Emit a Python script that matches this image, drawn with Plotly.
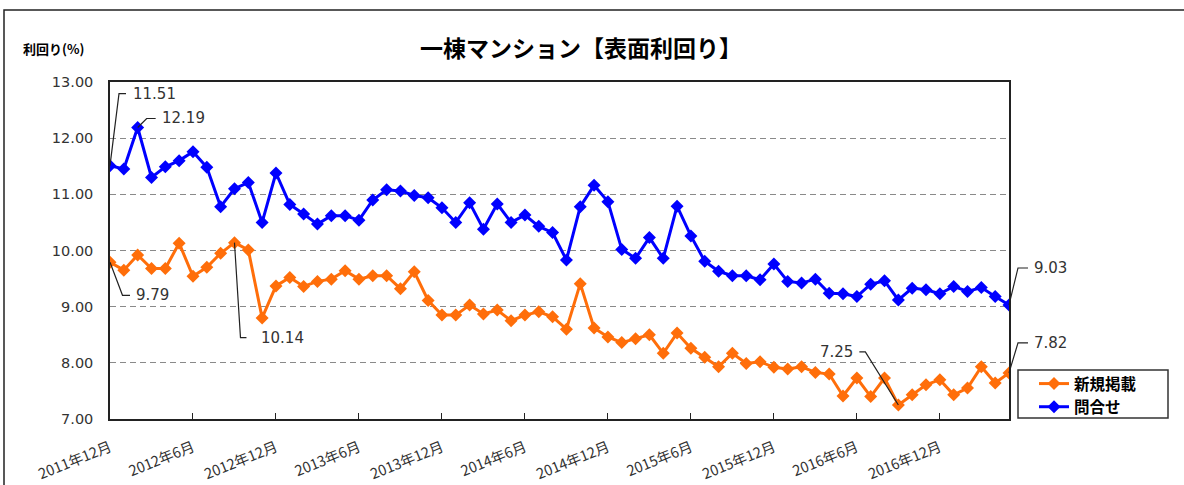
import plotly.graph_objects as go

# ---------------- data ----------------
months = []
for y in range(2011, 2018):
    for m in range(1, 13):
        if (y == 2011 and m < 12) or (y == 2017 and m > 5):
            continue
        months.append(f"{y}年{m}月")

shinki = [9.79, 9.65, 9.92, 9.68, 9.68, 10.13, 9.54, 9.70, 9.95, 10.14,
          10.01, 8.80, 9.37, 9.52, 9.36, 9.45, 9.49, 9.64, 9.49, 9.55,
          9.55, 9.32, 9.62, 9.11, 8.85, 8.85, 9.03, 8.87, 8.94, 8.75,
          8.85, 8.91, 8.82, 8.60, 9.41, 8.62, 8.46, 8.36, 8.43, 8.50,
          8.17, 8.53, 8.26, 8.10, 7.93, 8.17, 7.99, 8.02, 7.92, 7.89,
          7.93, 7.83, 7.80, 7.41, 7.73, 7.40, 7.73, 7.25, 7.43, 7.61,
          7.70, 7.43, 7.55, 7.93, 7.64, 7.82]

toiawase = [11.51, 11.45, 12.19, 11.30, 11.49, 11.60, 11.76, 11.48, 10.78, 11.10,
            11.21, 10.50, 11.38, 10.82, 10.65, 10.47, 10.62, 10.62, 10.54, 10.90,
            11.08, 11.06, 10.98, 10.94, 10.76, 10.50, 10.85, 10.38, 10.83, 10.50,
            10.63, 10.43, 10.32, 9.83, 10.78, 11.16, 10.87, 10.02, 9.86, 10.23,
            9.86, 10.79, 10.26, 9.81, 9.63, 9.55, 9.55, 9.48, 9.76, 9.45,
            9.42, 9.49, 9.24, 9.23, 9.18, 9.40, 9.46, 9.12, 9.33, 9.30,
            9.23, 9.36, 9.27, 9.34, 9.18, 9.03]

tick_step = 6
title_text = "一棟マンション【表面利回り】"
ytitle_text = "利回り(%)"
series_names = ["新規掲載", "問合せ"]

# ---------------- layout geometry (page pixels) ----------------
W, H = 1184, 485
PL, PR, PT, PB = 110, 1009, 82, 419   # plot area in page pixels
L, T, R, B = PL, PT, W - PR, H - PB
PW, PH = PR - PL, PB - PT
YMIN, YMAX = 7, 13
n = len(months)
xs = list(range(n))


def px2paper(px, py):
    return (px - PL) / PW, (PB - py) / PH


def data2px(i, v):
    return PL + i * PW / (n - 1), PB - (v - YMIN) * PH / (YMAX - YMIN)


ORANGE = "#FF6E0A"
BLUE = "#0000FF"

fig = go.Figure()
fig.add_trace(go.Scatter(x=xs, y=shinki, name=series_names[0], mode="lines+markers",
                         line=dict(color=ORANGE, width=3),
                         marker=dict(symbol="diamond", size=10, color=ORANGE)))
fig.add_trace(go.Scatter(x=xs, y=toiawase, name=series_names[1], mode="lines+markers",
                         line=dict(color=BLUE, width=3),
                         marker=dict(symbol="diamond", size=10, color=BLUE)))

tickvals = list(range(0, n, tick_step))
ticktext = [months[i] for i in tickvals]

fig.update_layout(
    width=W, height=H,
    margin=dict(l=L, r=R, t=T, b=B, autoexpand=False),
    paper_bgcolor="white", plot_bgcolor="white",
    showlegend=True,
    legend=dict(xref="container", yref="container",
                x=1034 / W, y=1 - 367 / H, xanchor="left", yanchor="top",
                borderwidth=0, bgcolor="rgba(0,0,0,0)",
                font=dict(family="Noto Sans CJK JP", size=15.5, color="black", weight="bold"),
                tracegroupgap=0, itemwidth=30),
    xaxis=dict(range=[0, n - 1], tickmode="array", tickvals=tickvals, ticktext=ticktext,
               tickangle=-22, ticks="inside", ticklen=6, tickcolor="#222",
               showline=True, linecolor="#222", linewidth=1.5, mirror=True,
               showgrid=False, zeroline=False, automargin=False, ticklabelstandoff=13,
               tickfont=dict(family="Noto Sans CJK JP", size=14.5, color="#333")),
    yaxis=dict(range=[YMIN, YMAX], dtick=1, tickformat=".2f",
               showline=True, linecolor="#222", linewidth=1.5, mirror=True,
               showgrid=True, gridcolor="#8a8a8a", gridwidth=1, griddash="6px,4px",
               zeroline=False, ticks="", ticklabelstandoff=12, automargin=False,
               tickfont=dict(family="DejaVu Sans", size=14.5, color="#333")),
)

annotations = []
shapes = []

# title and y-axis title
tx, ty = px2paper(581, 47)
annotations.append(dict(text=title_text, x=tx, y=ty, xref="paper", yref="paper",
                        showarrow=False, xanchor="center", yanchor="middle",
                        font=dict(family="Noto Sans CJK JP", size=23, color="black", weight="bold")))
ax_, ay_ = px2paper(21, 48)
annotations.append(dict(text=ytitle_text, x=ax_, y=ay_, xref="paper", yref="paper",
                        showarrow=False, xanchor="left", yanchor="middle",
                        font=dict(family="Noto Sans CJK JP", size=13, color="black", weight="bold")))

# data labels with leader lines: (series, index, elbow offsets in px, text offset)
label_specs = [
    (toiawase, 0, [(9, -72), (16, -72)], (21, -72)),
    (toiawase, 2, [(9, -9), (18, -9)], (22, -9)),
    (shinki, 0, [(12.5, 33), (20, 33)], (24, 33)),
    (shinki, 9, [(6, 95), (12, 95)], (25, 95)),
    (shinki, 57, [(-33, -53), (-39, -53)], (-43, -53)),
    (toiawase, n - 1, [(9, -37), (19, -37)], (23, -37)),
    (shinki, n - 1, [(9, -30), (19, -30)], (23, -30)),
]
for series, i, elbow, toff in label_specs:
    v = series[i]
    px, py = data2px(i, v)
    pts = [(px, py)] + [(px + dx, py + dy) for dx, dy in elbow]
    path = ""
    for k, (qx, qy) in enumerate(pts):
        fx, fy = px2paper(qx, qy)
        path += ("M" if k == 0 else "L") + f"{fx:.5f},{fy:.5f} "
    shapes.append(dict(type="path", path=path.strip(), xref="paper", yref="paper",
                       line=dict(color="#222", width=1.2)))
    lx, ly = px2paper(px + toff[0], py + toff[1])
    annotations.append(dict(text=f"{v:.2f}", x=lx, y=ly, xref="paper", yref="paper",
                            showarrow=False, xanchor="left" if toff[0] > 0 else "right",
                            yanchor="middle",
                            font=dict(family="DejaVu Sans", size=15, color="#333")))

# outer chart-area border
x0, y0 = px2paper(4, 10)
x1, y1 = px2paper(W + 20, H + 20)
shapes.append(dict(type="rect", xref="paper", yref="paper", x0=x0, y0=y1, x1=x1, y1=y0,
                   line=dict(color="#222", width=1.5), layer="below"))

# legend box
lx0, ly0 = px2paper(1018, 370)
lx1, ly1 = px2paper(1168, 418)
shapes.append(dict(type="rect", xref="paper", yref="paper", x0=lx0, y0=ly1, x1=lx1, y1=ly0,
                   line=dict(color="#333", width=1.5), fillcolor="rgba(0,0,0,0)", layer="above"))

fig.update_layout(annotations=annotations, shapes=shapes)
fig.write_html("out.html", config={"displayModeBar": False},
               post_script="document.body.style.margin='0';document.body.style.overflow='hidden';")
